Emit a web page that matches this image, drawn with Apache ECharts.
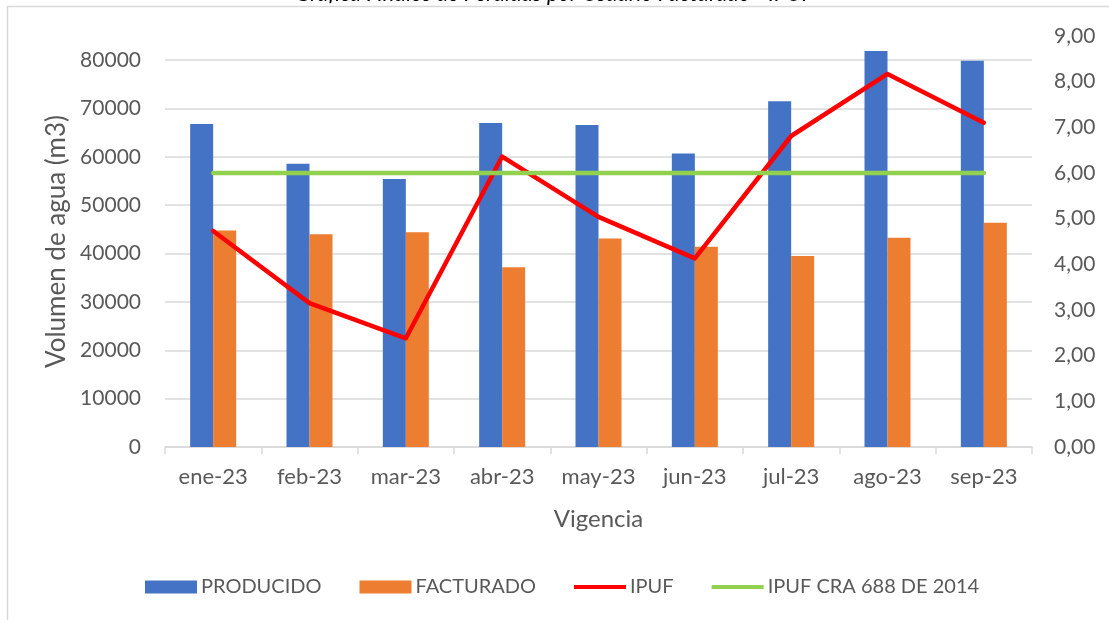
<!DOCTYPE html>
<html>
<head>
<meta charset="utf-8">
<script src="https://cdn.jsdelivr.net/npm/echarts@6/dist/echarts.min.js"></script>
<style>
  html, body { margin: 0; padding: 0; background: #fff; }
  #chart { width: 1109px; height: 620px; }
</style>
</head>
<body>
<div id="chart"></div>
<script>
// datos
const meses = ['ene-23', 'feb-23', 'mar-23', 'abr-23', 'may-23', 'jun-23', 'jul-23', 'ago-23', 'sep-23']
const producido = [66800, 58600, 55400, 67000, 66600, 60700, 71500, 81900, 79900]
const facturado = [44800, 44000, 44400, 37200, 43100, 41400, 39500, 43300, 46400]
const ipuf = [4.73, 3.15, 2.38, 6.36, 5.04, 4.13, 6.81, 8.17, 7.10]
const ipufCra = [6, 6, 6, 6, 6, 6, 6, 6, 6]

const font = 'Lato'
const gris = '#595959'
// icono de linea para la leyenda (el M de arriba y abajo fija la caja)
const iconoLinea = 'path://M0,0 M0,4.5 L52,4.5 L52,8.5 L0,8.5 Z M0,13'

let chart = echarts.init(document.getElementById('chart'))

chart.setOption({
  animation: false,
  textStyle: { fontFamily: font },
  title: {
    text: 'Gráfica : Índice de Pérdidas por Usuario Facturado - IPUF',
    left: 'center',
    top: -22,
    textStyle: { fontFamily: font, fontStyle: 'italic', fontWeight: 'normal', fontSize: 22, color: '#000' },
  },
  graphic: [
    {
      type: 'rect',
      shape: { x: 7.5, y: 6.5, width: 1200, height: 700 },
      style: { fill: 'none', stroke: '#d9d9d9', lineWidth: 1.5 },
      z: -1,
    },
  ],
  grid: {
    left: 165,
    right: 77,
    top: 36,
    bottom: 173,
  },
  legend: {
    bottom: 18,
    left: 140,
    itemWidth: 52,
    itemHeight: 13,
    itemGap: 38,
    textStyle: { fontFamily: font, fontSize: 20, color: gris, padding: [0, 0, 0, -1] },
    data: [
      { name: 'PRODUCIDO', icon: 'rect' },
      { name: 'FACTURADO', icon: 'rect' },
      { name: 'IPUF', icon: iconoLinea },
      { name: 'IPUF CRA 688 DE 2014', icon: iconoLinea },
    ],
  },
  xAxis: {
    type: 'category',
    data: meses,
    name: 'Vigencia',
    nameLocation: 'middle',
    nameGap: 60,
    nameTextStyle: { fontFamily: font, fontSize: 24, color: gris },
    axisLine: { lineStyle: { color: '#d9d9d9', width: 1.5 } },
    axisTick: { show: true, length: 7, lineStyle: { color: '#d9d9d9', width: 1.5 } },
    axisLabel: { fontFamily: font, fontSize: 22, color: gris, margin: 19 },
  },
  yAxis: [
    {
      type: 'value',
      min: 0,
      max: 85000,
      interval: 10000,
      name: 'Volumen de agua (m3)',
      nameLocation: 'middle',
      nameGap: 93,
      nameTextStyle: { fontFamily: font, fontSize: 26, color: gris },
      axisLine: { show: false },
      axisTick: { show: false },
      axisLabel: {
        fontFamily: font,
        fontSize: 21,
        color: gris,
        margin: 24,
        showMaxLabel: false,
        formatter: (v) => String(v),
      },
      splitLine: { showMaxLine: false, lineStyle: { color: '#d9d9d9', width: 1.5 } },
    },
    {
      type: 'value',
      min: 0,
      max: 9,
      interval: 1,
      axisLine: { show: false },
      axisTick: { show: false },
      splitLine: { show: false },
      axisLabel: {
        fontFamily: font,
        fontSize: 21,
        color: gris,
        margin: 22,
        formatter: (v) => v.toFixed(2).replace('.', ','),
      },
    },
  ],
  series: [
    {
      name: 'PRODUCIDO',
      type: 'bar',
      data: producido,
      barWidth: 23,
      barGap: '0%',
      itemStyle: { color: '#4472C4' },
    },
    {
      name: 'FACTURADO',
      type: 'bar',
      data: facturado,
      barWidth: 23,
      barGap: '0%',
      itemStyle: { color: '#ED7D31' },
    },
    {
      name: 'IPUF',
      type: 'line',
      yAxisIndex: 1,
      data: ipuf,
      symbol: 'none',
      itemStyle: { color: '#FF0000' },
      lineStyle: { color: '#FF0000', width: 4.5, cap: 'round', join: 'round' },
      z: 3,
    },
    {
      name: 'IPUF CRA 688 DE 2014',
      type: 'line',
      yAxisIndex: 1,
      data: ipufCra,
      symbol: 'none',
      itemStyle: { color: '#92D050' },
      lineStyle: { color: '#92D050', width: 4.5, cap: 'round' },
      z: 4,
    },
  ],
})
</script>
</body>
</html>
